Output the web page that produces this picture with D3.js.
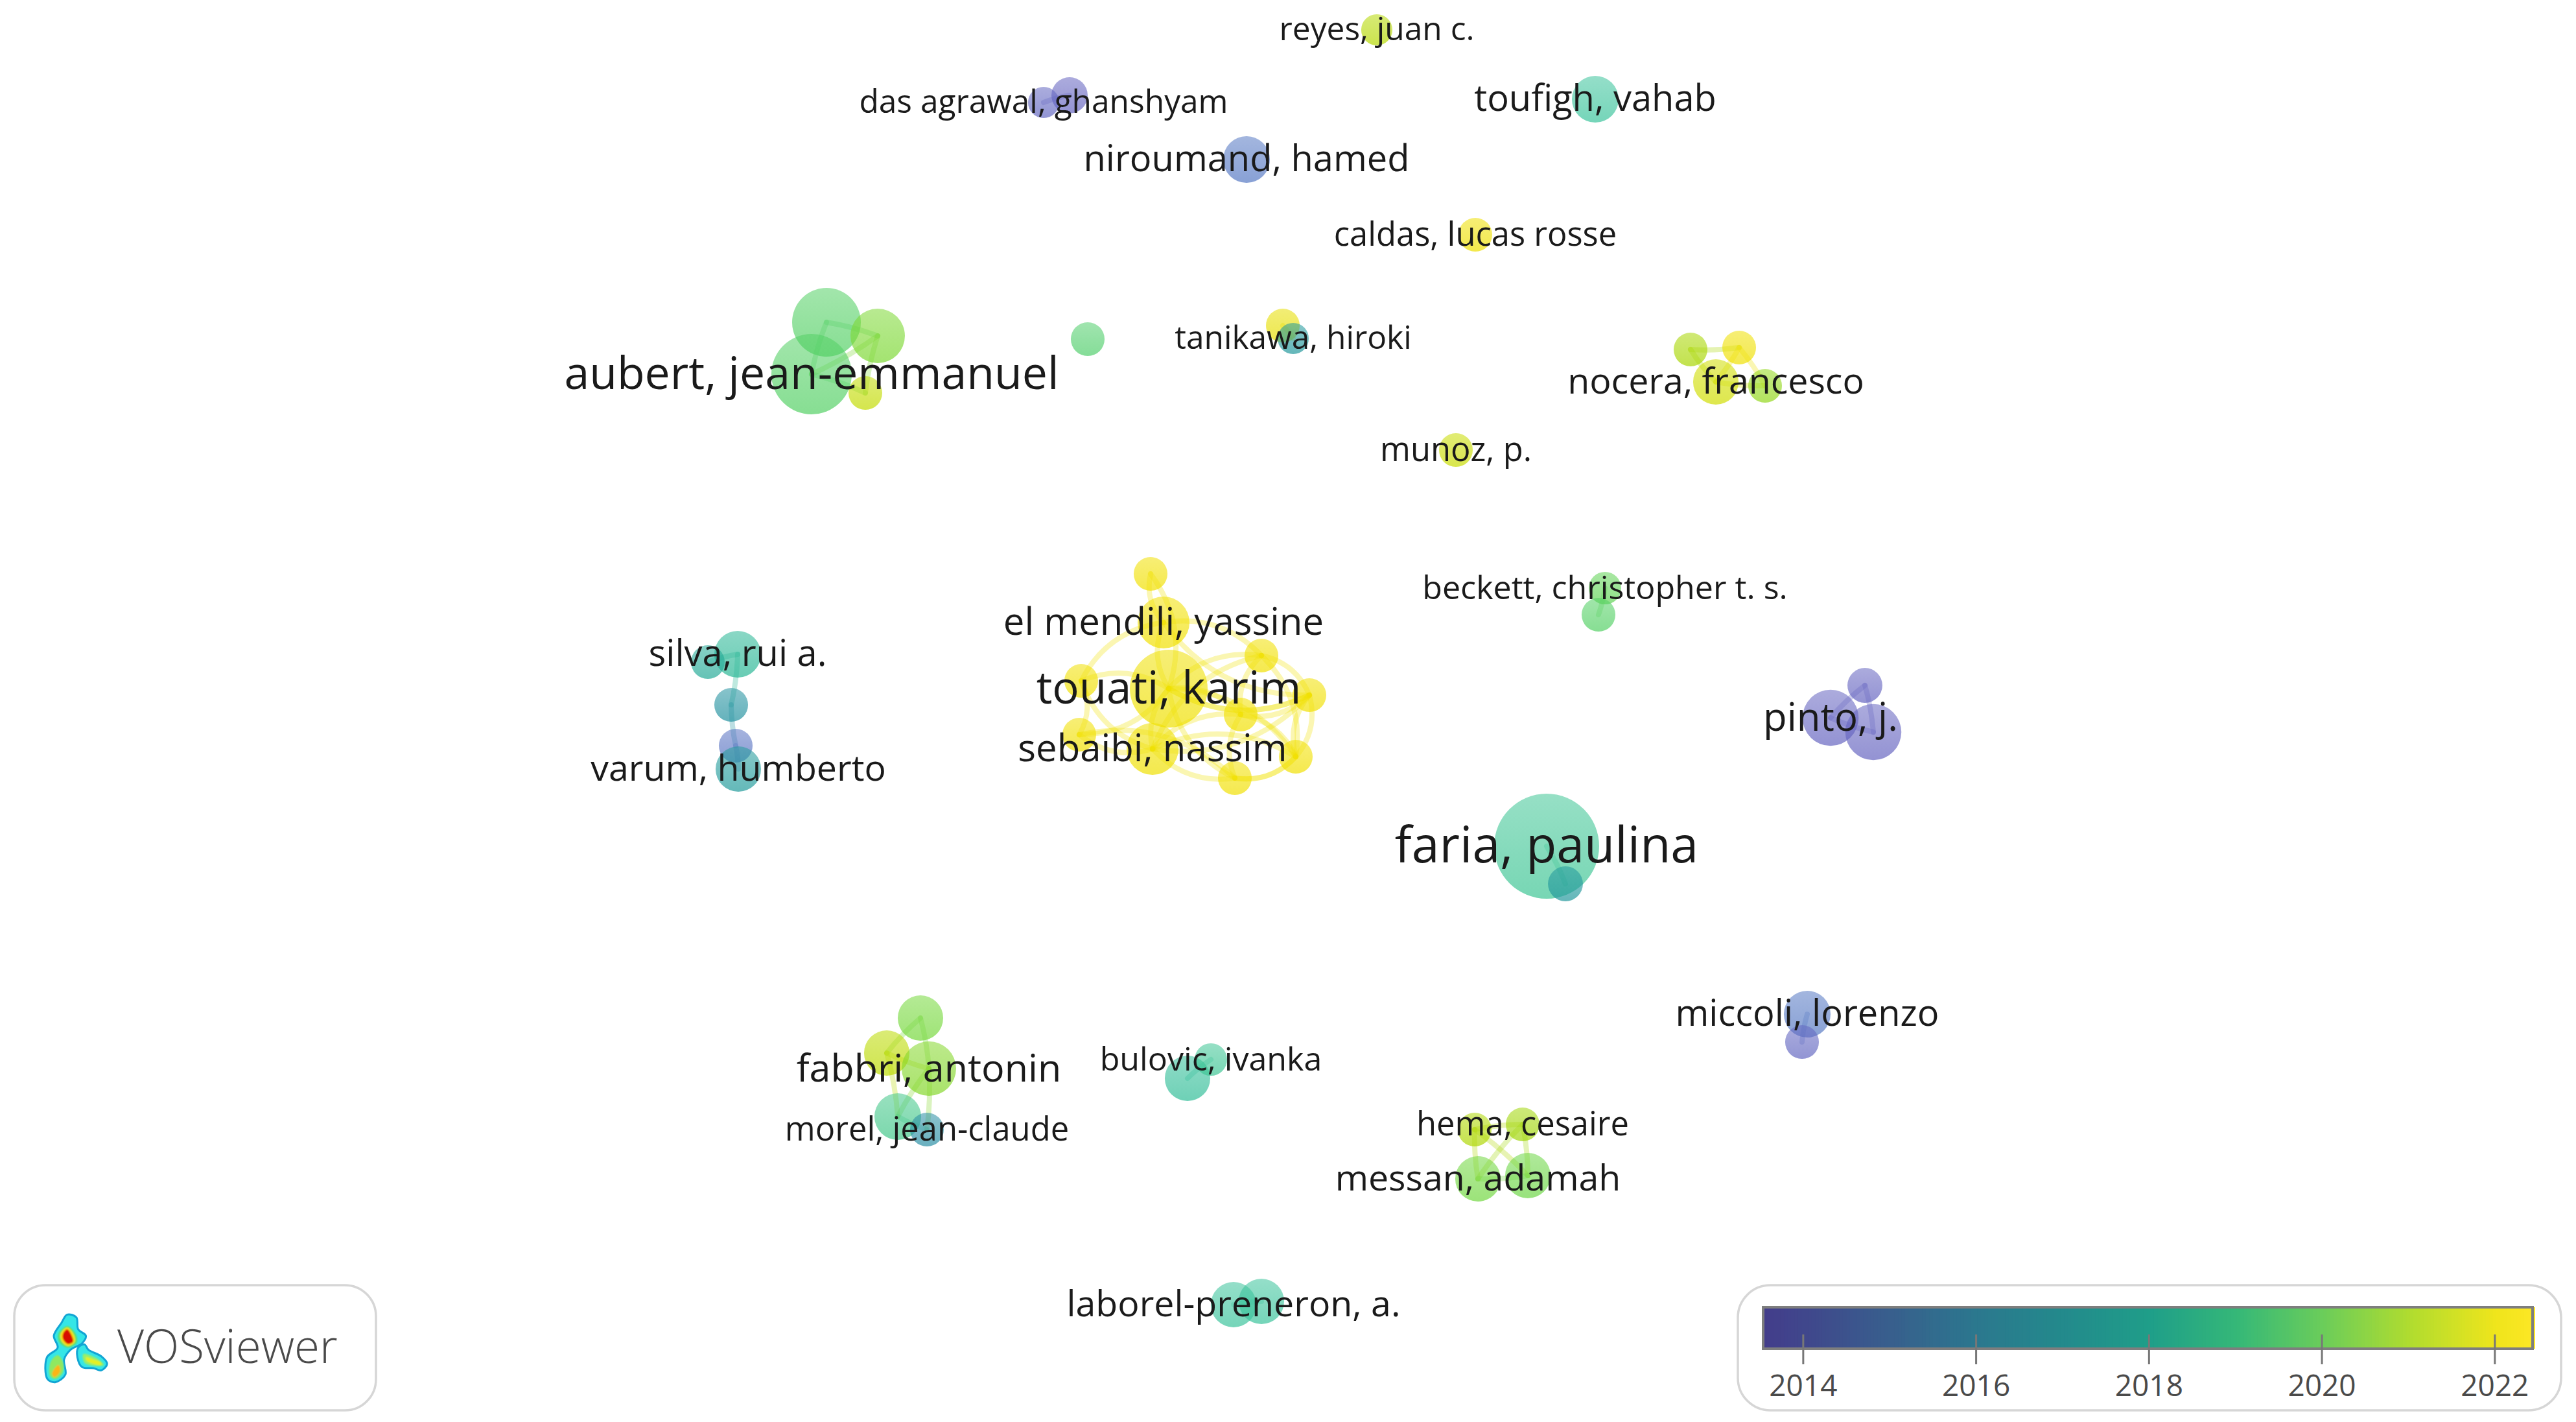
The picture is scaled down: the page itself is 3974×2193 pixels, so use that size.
<!DOCTYPE html>
<html><head><meta charset="utf-8">
<style>html,body{margin:0;padding:0;background:#fff;overflow:hidden}svg{display:block}text{font-family:"Open Sans",sans-serif}</style>
<script src="https://cdn.jsdelivr.net/npm/d3@7/dist/d3.min.js"></script>
</head><body><svg id="c" width="3974" height="2193"></svg>
<script>
const nodeLabel=["touati, karim","el mendili, yassine","","","","","","","sebaibi, nassim","","",
"","","aubert, jean-emmanuel","","",
"reyes, juan c.","","das agrawal, ghanshyam","toufigh, vahab","niroumand, hamed","caldas, lucas rosse","","tanikawa, hiroki",
"","","nocera, francesco","","munoz, p.","beckett, christopher t. s.","",
"silva, rui a.","","","","varum, humberto",
"","pinto, j.","","faria, paulina","","miccoli, lorenzo","",
"","hema, cesaire","messan, adamah","","laborel-preneron, a.","",
"","","fabbri, antonin","","morel, jean-claude","","bulovic, ivanka"];
const nodeX=[180.3,179.5,177.5,194.6,202.0,191.4,166.8,166.5,177.8,199.9,190.5,
127.5,135.4,125.2,133.5,167.8,
212.4,165.0,161.0,246.1,192.3,227.6,197.9,199.5,
260.8,268.3,264.7,272.3,224.6,247.6,246.6,
113.8,109.2,112.8,113.5,113.9,
287.7,282.4,289.0,238.6,241.5,278.8,278.0,
227.5,234.9,228.0,235.7,190.3,194.6,
142.0,136.8,143.3,138.5,143.0,183.2,186.8];
const nodeY=[106.2,96.0,88.5,101.1,107.2,110.2,105.0,113.3,115.5,116.7,120.0,
49.7,51.8,57.7,60.6,52.3,
4.6,14.7,15.8,15.3,24.6,36.2,50.2,52.2,
53.9,53.6,58.9,59.5,69.4,90.7,94.8,
100.9,102.1,108.7,115.0,118.6,
105.7,110.7,112.9,130.5,136.3,156.4,160.7,
174.2,173.4,181.8,181.3,201.2,200.7,
157.0,162.4,164.8,172.2,174.2,166.3,163.4];
const nodeWeight=[5.1,2.27,0.96,0.96,0.96,0.96,0.96,0.96,2.27,0.96,0.96,
3.98,2.5,5.45,0.96,0.96,
0.82,1.11,0.82,1.84,1.84,0.96,0.96,0.82,
0.96,0.96,1.74,0.96,0.96,0.89,0.96,
1.84,0.96,0.96,0.96,1.74,
1.03,2.65,2.65,9.3,1.03,1.84,0.96,
0.96,0.96,1.74,1.74,1.74,1.74,
1.74,1.74,2.5,1.84,0.96,1.74,0.89];
const nodeYear=[22.1,22.2,22.2,22.2,22.2,22.2,22.2,22.2,22.1,22.2,22.2,
19.5,20.4,19.5,21.4,19.3,
21.2,14.1,14.2,18.0,14.9,22.0,21.9,16.7,
21.0,22.1,21.6,20.7,21.5,19.8,19.5,
17.6,17.2,16.5,14.7,16.8,
14.1,14.1,14.1,18.2,16.7,14.9,14.2,
21.1,20.9,20.2,20.1,18.0,18.0,
20.3,21.3,20.5,18.5,16.3,17.8,18.2].map(v=>2000+v);
const linkPairs=[[0,1],[0,2],[0,3],[0,4],[0,5],[0,6],[0,7],[0,8],[0,9],[0,10],[1,2],[1,6],[1,3],[1,4],[3,4],[3,5],[4,5],[4,9],[4,9],[5,8],[5,9],[5,10],[6,7],[7,8],[8,9],[8,10],[9,10],[10,9],[3,9],[8,4],[7,10],[6,8],[8,3],[0,4],
[11,12],[11,13],[12,13],[12,14],[13,14],[17,18],[22,23],[24,26],[25,26],[24,25],[25,27],[26,27],[29,30],[31,32],[31,33],[33,34],[34,35],
[36,37],[36,38],[37,38],[39,40],[41,42],[43,44],[43,45],[43,46],[44,45],[44,46],[45,46],[47,48],[49,50],[49,51],[50,51],[50,52],[51,52],[51,53],[52,53],[54,55]];
const yellowLinkCount=34;
const yearTicks=[2014,2016,2018,2020,2022];
const colorYears=[2013.54,2014,2015,2016,2017,2018,2019,2020,2021,2022,2022.44];
const colorStops=["#433d8b","#40478c","#385f8d","#2b788e","#238a8c","#1f9e89","#35b878","#6bcd5a","#b0dc2f","#efe51c","#fde725"];
const nodeColorYears=[2014,2015,2016.5,2017.5,2018,2019.5,2020.3,2021,2021.5,2022,2022.44];
const nodeColorStops=["#6762c0","#537ac3","#22919f","#22b392","#3ac39b","#53d064","#75d83b","#a8d601","#c8dc00","#eedf00","#f4e200"];
const legendSteps=d3.range(2013.54,2022.44,0.04);
const logoOuterA=[[262,232],[298,245],[305,300],[335,330],[320,365],[275,395],[250,440],[255,510],[215,545],[185,530],[183,430],[225,385],[210,330],[240,270]];
const logoOuterB=[[330,370],[345,395],[395,425],[418,460],[395,490],[365,480],[320,475],[302,430],[305,385]];
const logoGreenA=[[262,285],[295,320],[300,360],[265,385],[232,360],[228,320]];
const logoYellowA=[[262,292],[288,325],[292,358],[265,378],[240,355],[236,322]];
const logoRedA=[[262,300],[280,330],[285,358],[265,368],[246,345],[246,320]];
const logoGreenB=[[225,420],[245,450],[245,500],[215,530],[195,515],[198,450]];
const logoYellowB=[[228,465],[235,495],[212,522],[203,505]];
const logoGreenC=[[325,415],[385,440],[405,465],[375,470],[330,455]];
const logoYellowC=[[335,430],[365,440],[390,450],[395,465],[370,462],[338,445]];

const svg=d3.select("#c");
const W=3974,H=2193;
const x=d3.scaleLinear().domain([0,397.4]).range([0,W]);
const y=d3.scaleLinear().domain([0,219.3]).range([0,H]);
const r=d3.scaleSqrt().domain([0,10]).range([0,84]);
const fs=d3.scaleSqrt().domain([0.8,1.84,5.1,9.3]).range([49.5,56,69,77]);
const color=d3.scaleLinear().domain(colorYears).range(colorStops).interpolate(d3.interpolateRgb);
const nodeColor=d3.scaleLinear().domain(nodeColorYears).range(nodeColorStops).clamp(true);
const nodes=nodeLabel.map((l,i)=>({i,label:l,x:x(nodeX[i]),y:y(nodeY[i]),r:r(nodeWeight[i]),year:nodeYear[i],w:nodeWeight[i]}));

const defs=svg.append("defs");
nodes.forEach(n=>{
  const g=defs.append("linearGradient").attr("id","g"+n.i).attr("x1",0).attr("y1",0).attr("x2",0).attr("y2",1);
  const c=nodeColor(n.year);
  g.append("stop").attr("offset","0%").attr("stop-color",c).attr("stop-opacity",.54);
  g.append("stop").attr("offset","100%").attr("stop-color",c).attr("stop-opacity",.7);
});
defs.append("filter").attr("id","soft2").append("feGaussianBlur").attr("stdDeviation",.8);

const linkG=svg.append("g").attr("fill","none").attr("stroke-linecap","round");
linkG.selectAll("path").data(linkPairs).join("path")
 .attr("d",([a,b],k)=>{
   const A=nodes[a],B=nodes[b];
   const mx=(A.x+B.x)/2,my=(A.y+B.y)/2,dx=B.x-A.x,dy=B.y-A.y;
   const size=k<yellowLinkCount?0.26:0.05;
   const bend=k%2?size:-size;
   const p=d3.path();p.moveTo(A.x,A.y);p.quadraticCurveTo(mx-dy*bend,my+dx*bend,B.x,B.y);return p.toString();})
 .attr("stroke",([a])=>nodeColor(nodes[a].year))
 .attr("stroke-opacity",.3)
 .attr("stroke-width",8);

svg.append("g").selectAll("circle").data(nodes).join("circle")
 .attr("cx",d=>d.x).attr("cy",d=>d.y).attr("r",d=>d.r)
 .attr("fill",d=>`url(#g${d.i})`);

svg.append("g").selectAll("text").data(nodes.filter(d=>d.label)).join("text")
 .attr("x",d=>d.x).attr("y",d=>d.y).attr("dy","0.33em")
 .attr("text-anchor","middle").attr("fill","#1a1a1a")
 .attr("font-size",d=>fs(d.w)).text(d=>d.label);

const panel=(px,py,pw,ph,rad)=>svg.append("rect").attr("x",px).attr("y",py).attr("width",pw).attr("height",ph).attr("rx",rad)
 .attr("fill","#fff").attr("stroke","#d6d6d6").attr("stroke-width",3.5);
panel(22,1982,558,193,48);
const lx=d3.scaleLinear().domain([0,1568]).range([0,620]);
const ly=d3.scaleLinear().domain([0,729]).range([1950,2193]);
const blob=d3.line().x(d=>lx(d[0])).y(d=>ly(d[1])).curve(d3.curveCatmullRomClosed);
const logo=svg.append("g");
[[logoOuterA,"#35e6e6","#12a5d4",3],[logoOuterB,"#35e6e6","#12a5d4",3]].forEach(([p,f,s,w])=>logo.append("path").attr("d",blob(p)).attr("fill",f).attr("stroke",s).attr("stroke-width",w));
const soft=logo.append("g").attr("filter","url(#soft2)");
[[logoGreenA,"#5de06a"],[logoYellowA,"#f7e214"],[logoRedA,"#d70a00"],[logoGreenB,"#8fe860"],[logoYellowB,"#fbb514"],[logoGreenC,"#97ee6a"],[logoYellowC,"#e6f020"]].forEach(([p,f])=>soft.append("path").attr("d",blob(p)).attr("fill",f));
svg.append("text").attr("x",181).attr("y",2102).attr("font-size",71).attr("font-weight",300).attr("fill","#4a4a4a").text("VOSviewer");

panel(2681,1982,1270,193,50);
const lgx=d3.scaleLinear().domain([2013.54,2022.44]).range([2720,3907]);
const lgG=svg.append("g");
lgG.selectAll("rect").data(legendSteps).join("rect")
 .attr("x",d=>lgx(d)).attr("y",2016).attr("width",d=>lgx(d+0.05)-lgx(d)).attr("height",64).attr("fill",d=>color(d));
svg.append("rect").attr("x",2720).attr("y",2016).attr("width",1187).attr("height",64).attr("fill","none").attr("stroke","#7e7e7e").attr("stroke-width",4);
const axis=d3.axisBottom(lgx).tickValues(yearTicks).tickFormat(d3.format("d")).tickSize(46).tickSizeOuter(0);
const ag=svg.append("g").attr("transform","translate(0,2058)").call(axis);
ag.select(".domain").remove();
ag.selectAll("line").attr("stroke","#777").attr("stroke-width",3);
ag.selectAll("text").attr("font-size",46).attr("fill","#4a4a4a").attr("dy",0).attr("y",95).style("font-family",'"Open Sans",sans-serif');
</script></body></html>
